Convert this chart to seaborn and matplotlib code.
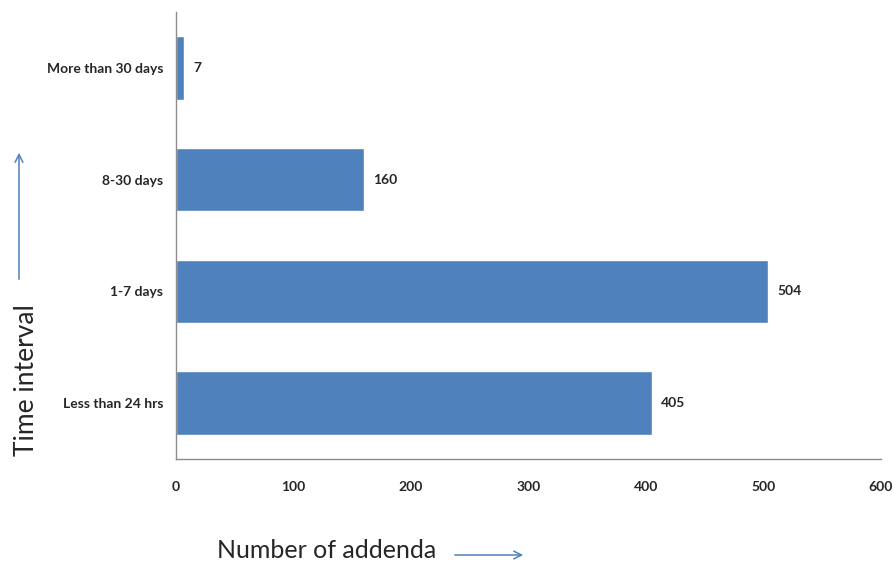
import numpy as np
import pandas as pd
import matplotlib
matplotlib.use("Agg")
import matplotlib.pyplot as plt
import seaborn as sns

categories = ["More than 30 days", "8-30 days", "1-7 days", "Less than 24 hrs"]
counts = [7, 160, 504, 405]
x_ticks = [0, 100, 200, 300, 400, 500, 600]

sns.set_style("white")
plt.rcParams['font.family'] = ['Lato', 'DejaVu Sans']

df = pd.DataFrame({"interval": categories, "count": counts})

fig = plt.figure(figsize=(8.93, 5.65), dpi=100)
ax = fig.add_axes([176 / 893, 1 - 459 / 565, (881 - 176) / 893, (459 - 12) / 565])

sns.barplot(data=df, x="count", y="interval", order=categories,
            color="#4F81BD", saturation=1, width=0.57, ax=ax)

ax.set_xlim(0, 600)
ax.set_ylim(3.5, -0.5)
ax.set_xticks(x_ticks)
ax.set_xticklabels([str(t) for t in x_ticks], fontweight="bold", fontsize=10)
ax.set_yticklabels(categories, fontweight="bold", fontsize=10)
ax.tick_params(axis="x", length=0, pad=16)
ax.tick_params(axis="y", length=0, pad=9)
ax.set_xlabel("")
ax.set_ylabel("")

for s in ["top", "right"]:
    ax.spines[s].set_visible(False)
for s in ["left", "bottom"]:
    ax.spines[s].set_color("#8c8c8c")
    ax.spines[s].set_linewidth(1)

# value labels
for i, v in enumerate(counts):
    ax.text(v + 8, i, str(v), va="center", ha="left",
            fontweight="bold", fontsize=10)

# axis titles with arrows
fig.text(27 / 893, 1 - 380 / 565, "Time interval", rotation=90,
         ha="center", va="center", fontsize=19)
fig.patches.append(matplotlib.patches.FancyArrowPatch(
    (19 / 893, 1 - 282 / 565), (19 / 893, 1 - 150 / 565),
    transform=fig.transFigure, arrowstyle="->", mutation_scale=14,
    color="#4F81BD", lw=1.1))

fig.text(217 / 893, 1 - 551 / 565, "Number of addenda",
         ha="left", va="center", fontsize=18)
fig.patches.append(matplotlib.patches.FancyArrowPatch(
    (452 / 893, 1 - 555 / 565), (526 / 893, 1 - 555 / 565),
    transform=fig.transFigure, arrowstyle="->", mutation_scale=14,
    color="#4F81BD", lw=1.1))

fig.savefig("out.png", dpi=100)
